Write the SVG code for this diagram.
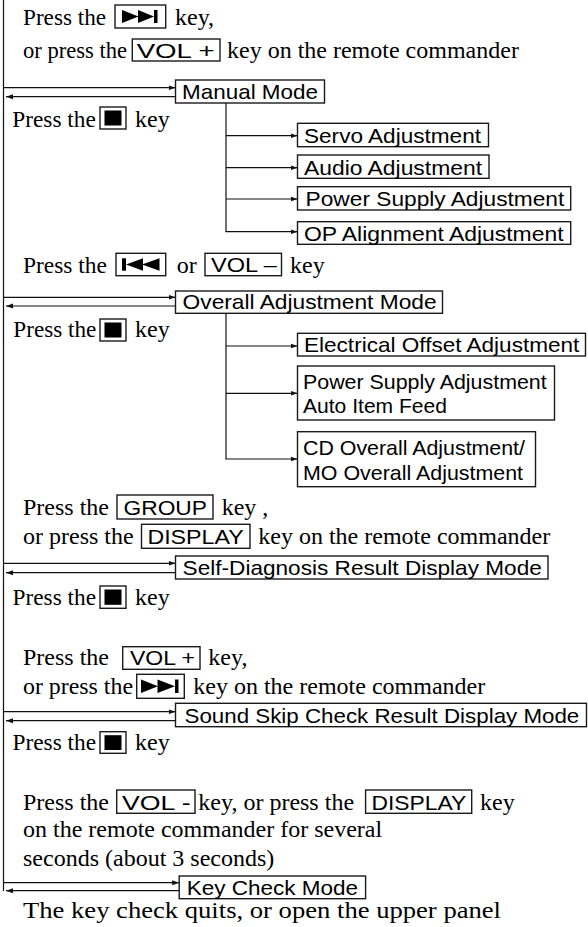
<svg xmlns="http://www.w3.org/2000/svg" width="588" height="927" viewBox="0 0 588 927">
<style>
.serif{font-family:"Liberation Serif","Times New Roman",serif;font-size:24px;fill:#000}
.sans{font-family:"Liberation Sans",Arial,sans-serif;font-size:21px;fill:#000}
.box{fill:#fff;stroke:#1a1a1a;stroke-width:1.4}
.key{fill:#fff;stroke:#1a1a1a;stroke-width:1.4}
.ln{fill:none;stroke:#111;stroke-width:1.2}
.blk{fill:#000}
</style>
<defs>
<marker id="ah" markerUnits="userSpaceOnUse" markerWidth="7" markerHeight="6" refX="7" refY="3" orient="auto">
<path d="M0,0.5 L7,3 L0,5.5 z" fill="#111"/>
</marker>
</defs>
<rect width="588" height="927" fill="#fff"/>

<g id="connectors">
<line class="ln" x1="3.5" y1="0" x2="3.5" y2="891"/>
<line class="ln" x1="3.5" y1="87.7" x2="175.5" y2="87.7" marker-end="url(#ah)"/>
<line class="ln" x1="175.5" y1="96.7" x2="6" y2="96.7" marker-end="url(#ah)"/>
<line class="ln" x1="3.5" y1="297.3" x2="175.5" y2="297.3" marker-end="url(#ah)"/>
<line class="ln" x1="175.5" y1="306" x2="6" y2="306" marker-end="url(#ah)"/>
<line class="ln" x1="3.5" y1="563.3" x2="175.5" y2="563.3" marker-end="url(#ah)"/>
<line class="ln" x1="175.5" y1="572.7" x2="6" y2="572.7" marker-end="url(#ah)"/>
<line class="ln" x1="3.5" y1="711.7" x2="175.5" y2="711.7" marker-end="url(#ah)"/>
<line class="ln" x1="175.5" y1="720.7" x2="6" y2="720.7" marker-end="url(#ah)"/>
<line class="ln" x1="3.5" y1="882.7" x2="179.2" y2="882.7" marker-end="url(#ah)"/>
<line class="ln" x1="179.2" y1="890.7" x2="6" y2="890.7" marker-end="url(#ah)"/>
<line class="ln" x1="226" y1="103" x2="226" y2="231.7"/>
<line class="ln" x1="226" y1="135.7" x2="297.5" y2="135.7" marker-end="url(#ah)"/>
<line class="ln" x1="226" y1="167.7" x2="297.5" y2="167.7" marker-end="url(#ah)"/>
<line class="ln" x1="226" y1="199" x2="297.5" y2="199" marker-end="url(#ah)"/>
<line class="ln" x1="225.4" y1="231.7" x2="297.5" y2="231.7" marker-end="url(#ah)"/>
<line class="ln" x1="226" y1="313.3" x2="226" y2="459"/>
<line class="ln" x1="226" y1="346" x2="297.5" y2="346" marker-end="url(#ah)"/>
<line class="ln" x1="226" y1="393.3" x2="297.5" y2="393.3" marker-end="url(#ah)"/>
<line class="ln" x1="225.4" y1="459" x2="297.5" y2="459" marker-end="url(#ah)"/>
</g>

<g id="step-enter-manual">
<text class="serif" x="23" y="25" textLength="83" lengthAdjust="spacingAndGlyphs">Press the</text>
<rect class="key" x="115" y="5" width="50.7" height="23"/>
<polygon class="blk" points="122,10 138.5,16.5 122,23"/>
<polygon class="blk" points="138,10 154,16.5 138,23"/>
<rect class="blk" x="154" y="10" width="3.5" height="13"/>
<text class="serif" x="175" y="25">key,</text>
<text class="serif" x="23" y="57.5" textLength="104" lengthAdjust="spacingAndGlyphs">or press the</text>
<rect class="key" x="132.3" y="39" width="87.7" height="22"/>
<text class="sans" x="136.7" y="57.5" textLength="78" lengthAdjust="spacingAndGlyphs">VOL +</text>
<text class="serif" x="227" y="57.5">key on the remote commander</text>
</g>

<g id="manual-mode">
<rect class="box" x="175.5" y="80" width="149" height="23"/>
<text class="sans" x="182" y="98.5" textLength="136" lengthAdjust="spacingAndGlyphs">Manual Mode</text>
</g>

<g id="step-exit-manual">
<text class="serif" x="12.3" y="127" textLength="83.5" lengthAdjust="spacingAndGlyphs">Press the</text>
<rect class="key" x="100" y="107" width="26" height="22"/>
<rect class="blk" x="104.5" y="110.5" width="17" height="15"/>
<text class="serif" x="135" y="127">key</text>
</g>

<g id="servo-adjustment">
<rect class="box" x="297.5" y="123.3" width="191" height="23.4"/>
<text class="sans" x="304" y="143" textLength="177" lengthAdjust="spacingAndGlyphs">Servo Adjustment</text>
</g>
<g id="audio-adjustment">
<rect class="box" x="297.5" y="155" width="191.5" height="23.3"/>
<text class="sans" x="304" y="174.5" textLength="178" lengthAdjust="spacingAndGlyphs">Audio Adjustment</text>
</g>
<g id="power-supply-adjustment">
<rect class="box" x="297.5" y="186.7" width="273.2" height="23.3"/>
<text class="sans" x="305.6" y="206" textLength="258.7" lengthAdjust="spacingAndGlyphs">Power Supply Adjustment</text>
</g>
<g id="op-alignment-adjustment">
<rect class="box" x="297.5" y="221.7" width="273.2" height="22.6"/>
<text class="sans" x="304" y="240.5" textLength="259.6" lengthAdjust="spacingAndGlyphs">OP Alignment Adjustment</text>
</g>

<g id="step-enter-overall">
<text class="serif" x="23" y="273" textLength="84" lengthAdjust="spacingAndGlyphs">Press the</text>
<rect class="key" x="116" y="253.3" width="49.7" height="22.4"/>
<rect class="blk" x="122" y="258.3" width="4" height="12.4"/>
<polygon class="blk" points="126,264.5 143,258.3 143,270.7"/>
<polygon class="blk" points="142,264.5 159.5,258.3 159.5,270.7"/>
<text class="serif" x="176.7" y="273">or</text>
<rect class="key" x="205" y="253.3" width="76.5" height="22.4"/>
<text class="sans" x="211" y="272" textLength="66" lengthAdjust="spacingAndGlyphs">VOL –</text>
<text class="serif" x="290" y="273">key</text>
</g>

<g id="overall-adjustment-mode">
<rect class="box" x="175.5" y="291" width="267" height="22.3"/>
<text class="sans" x="182.6" y="308.5" textLength="254" lengthAdjust="spacingAndGlyphs">Overall Adjustment Mode</text>
</g>

<g id="step-exit-overall">
<text class="serif" x="13.3" y="337" textLength="83" lengthAdjust="spacingAndGlyphs">Press the</text>
<rect class="key" x="100" y="319" width="26" height="22"/>
<rect class="blk" x="104.5" y="322.5" width="17" height="15"/>
<text class="serif" x="135" y="337">key</text>
</g>

<g id="electrical-offset-adjustment">
<rect class="box" x="297.5" y="333.3" width="288" height="22.7"/>
<text class="sans" x="304" y="352" textLength="275.3" lengthAdjust="spacingAndGlyphs">Electrical Offset Adjustment</text>
</g>
<g id="power-supply-auto-item-feed">
<rect class="box" x="297.5" y="366" width="257" height="54"/>
<text class="sans" x="303" y="389.3" textLength="243.7" lengthAdjust="spacingAndGlyphs">Power Supply Adjustment</text>
<text class="sans" x="303" y="413.3" textLength="144" lengthAdjust="spacingAndGlyphs">Auto Item Feed</text>
</g>
<g id="cd-mo-overall-adjustment">
<rect class="box" x="297.5" y="431.7" width="238" height="55"/>
<text class="sans" x="303" y="455" textLength="222" lengthAdjust="spacingAndGlyphs">CD Overall Adjustment/</text>
<text class="sans" x="303" y="480" textLength="220" lengthAdjust="spacingAndGlyphs">MO Overall Adjustment</text>
</g>

<g id="step-enter-self-diagnosis">
<text class="serif" x="23" y="515">Press the</text>
<rect class="key" x="117" y="495" width="96" height="24"/>
<text class="sans" x="123.5" y="514.5" textLength="83.5" lengthAdjust="spacingAndGlyphs">GROUP</text>
<text class="serif" x="221.7" y="515">key ,</text>
<text class="serif" x="23" y="543.5">or press the</text>
<rect class="key" x="141.5" y="524.3" width="108.5" height="24"/>
<text class="sans" x="147.4" y="543.5" textLength="96.3" lengthAdjust="spacingAndGlyphs">DISPLAY</text>
<text class="serif" x="258.3" y="543.5">key on the remote commander</text>
</g>

<g id="self-diagnosis-result-display-mode">
<rect class="box" x="175.5" y="556" width="372.5" height="23"/>
<text class="sans" x="182.6" y="575" textLength="359.2" lengthAdjust="spacingAndGlyphs">Self-Diagnosis Result Display Mode</text>
</g>

<g id="step-exit-self-diagnosis">
<text class="serif" x="12.5" y="605" textLength="83.5" lengthAdjust="spacingAndGlyphs">Press the</text>
<rect class="key" x="100" y="586" width="26" height="22.3"/>
<rect class="blk" x="104.5" y="589.5" width="17" height="15.3"/>
<text class="serif" x="135" y="605">key</text>
</g>

<g id="step-enter-sound-skip">
<text class="serif" x="23" y="665">Press the</text>
<rect class="key" x="122.7" y="646.7" width="77.3" height="22.6"/>
<text class="sans" x="130" y="665" textLength="65" lengthAdjust="spacingAndGlyphs">VOL +</text>
<text class="serif" x="208.3" y="665">key,</text>
<text class="serif" x="23" y="693.5" textLength="110" lengthAdjust="spacingAndGlyphs">or press the</text>
<rect class="key" x="136.7" y="674.3" width="47.6" height="24"/>
<polygon class="blk" points="141,679.5 158,686.3 141,693"/>
<polygon class="blk" points="157.5,679.5 175,686.3 157.5,693"/>
<rect class="blk" x="175" y="679.5" width="3.5" height="13.5"/>
<text class="serif" x="193.3" y="693.5">key on the remote commander</text>
</g>

<g id="sound-skip-check-result-display-mode">
<rect class="box" x="175.5" y="703.3" width="411" height="23.4"/>
<text class="sans" x="184.5" y="722.5" textLength="394.8" lengthAdjust="spacingAndGlyphs">Sound Skip Check Result Display Mode</text>
</g>

<g id="step-exit-sound-skip">
<text class="serif" x="12.5" y="750" textLength="83.5" lengthAdjust="spacingAndGlyphs">Press the</text>
<rect class="key" x="100" y="731.7" width="26" height="21.6"/>
<rect class="blk" x="104.5" y="735.2" width="17" height="14.8"/>
<text class="serif" x="135" y="750">key</text>
</g>

<g id="step-enter-key-check">
<text class="serif" x="23" y="810">Press the</text>
<rect class="key" x="116.7" y="790" width="78.3" height="23.3"/>
<text class="sans" x="122" y="809.5" textLength="68.7" lengthAdjust="spacingAndGlyphs">VOL -</text>
<text class="serif" x="198.3" y="810">key, or press the</text>
<rect class="key" x="365.6" y="790" width="106.1" height="23.3"/>
<text class="sans" x="371.5" y="809.5" textLength="94.8" lengthAdjust="spacingAndGlyphs">DISPLAY</text>
<text class="serif" x="480" y="810">key</text>
<text class="serif" x="23" y="837">on the remote commander for several</text>
<text class="serif" x="23" y="865.5">seconds (about 3 seconds)</text>
</g>

<g id="key-check-mode">
<rect class="box" x="179.2" y="876" width="186.4" height="22.7"/>
<text class="sans" x="186.7" y="894.5" textLength="171.3" lengthAdjust="spacingAndGlyphs">Key Check Mode</text>
</g>

<g id="step-exit-key-check">
<text class="serif" x="23" y="918" textLength="478" lengthAdjust="spacingAndGlyphs">The key check quits, or open the upper panel</text>
</g>
</svg>
